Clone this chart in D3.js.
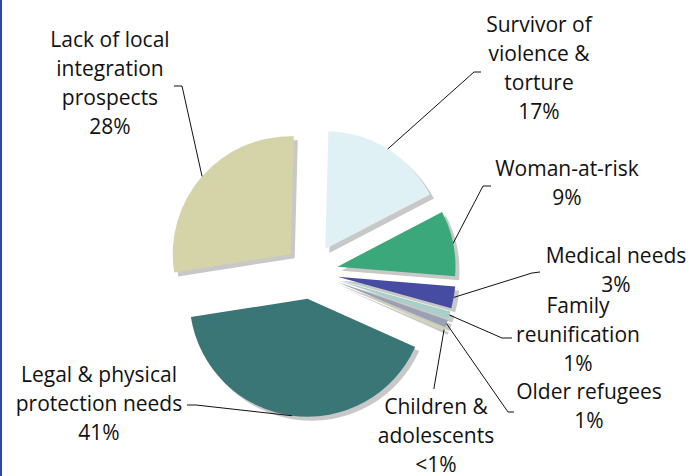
<!DOCTYPE html>
<html>
<head>
<meta charset="utf-8">
<script src="https://cdn.jsdelivr.net/npm/d3@7"></script>
<style>
  html, body { margin: 0; padding: 0; background: #fff; }
  svg { display: block; }
</style>
</head>
<body>
<script>
// ---- data ----
const categories = [
  "Survivor of violence & torture",
  "Woman-at-risk",
  "Medical needs",
  "Family reunification",
  "Older refugees",
  "Children & adolescents",
  "Legal & physical protection needs",
  "Lack of local integration prospects"
];
const values = [17, 9, 3, 1, 1, 0.4, 41, 28];
const percentLabels = ["17%", "9%", "3%", "1%", "1%", "<1%", "41%", "28%"];
const labelLines = [
  ["Survivor of", "violence &", "torture"],
  ["Woman-at-risk"],
  ["Medical needs"],
  ["Family", "reunification"],
  ["Older refugees"],
  ["Children &", "adolescents"],
  ["Legal & physical", "protection needs"],
  ["Lack of local", "integration", "prospects"]
];
const colors = ["#dff1f5", "#3aa87a", "#464ca1", "#a9cfc9", "#9ba0b2", "#d3d3b6", "#3b7676", "#d5d4a9"];

// ---- layout (label anchor positions, leader elbows) ----
const labelLayout = [
  { cx: 539, y: 32,  elbow: [474, 72],  end: [481, 72] },
  { cx: 567, y: 176, elbow: [483, 186], end: [491, 186] },
  { cx: 616, y: 263, elbow: [532, 273], end: [540, 272] },
  { cx: 578, y: 313, elbow: [502, 338], end: [512, 338] },
  { cx: 589, y: 399, elbow: [508, 412], end: [514, 412] },
  { cx: 436, y: 414, elbow: [434, 388], end: [434, 389] },
  { cx: 99,  y: 382, elbow: [196, 405], end: [187, 405] },
  { cx: 110, y: 47,  elbow: [182, 86],  end: [174, 86] }
];

const W = 691, H = 476;
const cx = 311, cy = 272, R = 118, explode = 27;
const lineH = 29;

const svg = d3.select("body").append("svg").attr("width", W).attr("height", H);

// left border line
svg.append("rect").attr("x", 0).attr("y", 0).attr("width", 2).attr("height", H).attr("fill", "#2b4b9b");

const start = 0.026;
const pie = d3.pie().sort(null).startAngle(start).endAngle(start + 2 * Math.PI);
const arcs = pie(values);
const arc = d3.arc().innerRadius(0).outerRadius(R);

function offset(d) {
  const m = (d.startAngle + d.endAngle) / 2;
  return [cx + explode * Math.sin(m), cy - explode * Math.cos(m)];
}

const g = svg.append("g");
// shadow / depth
g.selectAll("path.shadow").data(arcs).enter().append("path")
  .attr("class", "shadow")
  .attr("d", arc)
  .attr("transform", d => { const o = offset(d); return `translate(${o[0] + 4},${o[1] + 4})`; })
  .attr("fill", "#c8c8c8");
// slices
g.selectAll("path.slice").data(arcs).enter().append("path")
  .attr("class", "slice")
  .attr("d", arc)
  .attr("transform", d => { const o = offset(d); return `translate(${o[0]},${o[1]})`; })
  .attr("fill", (d, i) => colors[i]);

// leader lines
arcs.forEach((d, i) => {
  const o = offset(d);
  const m = (d.startAngle + d.endAngle) / 2;
  const p0 = [o[0] + R * Math.sin(m), o[1] - R * Math.cos(m)];
  const L = labelLayout[i];
  svg.append("path")
    .attr("d", d3.line()([p0, L.elbow, L.end]))
    .attr("fill", "none").attr("stroke", "#111").attr("stroke-width", 1);
});

// labels
arcs.forEach((d, i) => {
  const L = labelLayout[i];
  const lines = labelLines[i].concat([percentLabels[i]]);
  const t = svg.append("text")
    .attr("text-anchor", "middle")
    .attr("font-family", "'Open Sans', 'Noto Sans', sans-serif")
    .attr("font-size", 21)
    .attr("fill", "#111");
  lines.forEach((s, k) => {
    t.append("tspan").attr("x", L.cx).attr("y", L.y + k * lineH).text(s);
  });
});
</script>
</body>
</html>
